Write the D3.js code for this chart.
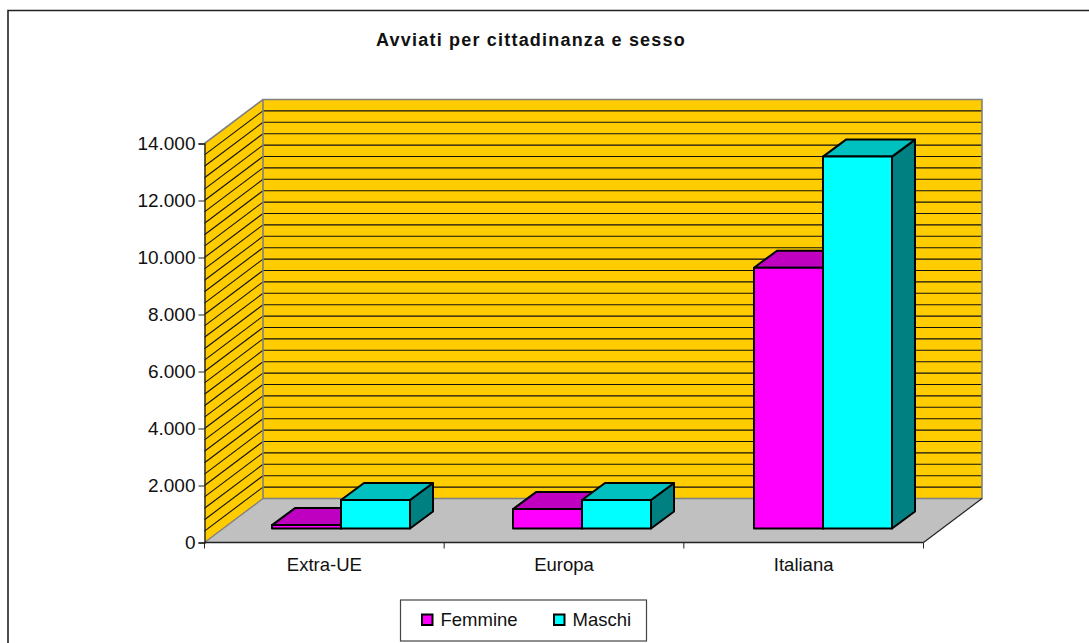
<!DOCTYPE html>
<html>
<head>
<meta charset="utf-8">
<script src="https://cdn.jsdelivr.net/npm/d3@7"></script>
<style>
  html, body { margin: 0; padding: 0; background: #fff; overflow: hidden; }
  svg { display: block; }
  text { font-family: "Liberation Sans", Arial, sans-serif; fill: #111; }
</style>
</head>
<body>
<svg id="chart" width="1089" height="643"></svg>
<script>
const categories = ['Extra-UE', 'Europa', 'Italiana'];
const seriesNames = ['Femmine', 'Maschi'];
const femmine = [120, 680, 9150];
const maschi = [1000, 1000, 13050];
const yTicks = [0, 2000, 4000, 6000, 8000, 10000, 12000, 14000];
const yTickLabels = ['0', '2.000', '4.000', '6.000', '8.000', '10.000', '12.000', '14.000'];
const gridValues = d3.range(0, 14000, 400);

const COLOR = {
  Femmine: { front: '#ff00ff', top: '#c000c0', side: '#800080' },
  Maschi:  { front: '#00ffff', top: '#00c0c0', side: '#008080' }
};

const svg = d3.select('#chart');

// Frame (bottom is cut off by the picture, like the source)
svg.append('path')
  .attr('d', 'M8,643V10.5H1089')
  .attr('fill', 'none').attr('stroke', '#222').attr('stroke-width', 1.6);

svg.append('text')
  .attr('x', 531).attr('y', 46)
  .attr('text-anchor', 'middle')
  .attr('font-size', 18).attr('font-weight', 'bold')
  .attr('letter-spacing', 1.2)
  .text('Avviati per cittadinanza e sesso');

// Front axes and the 3D depth offset of the box
const x = d3.scaleBand().domain(categories).range([204.5, 923.5]);
const y = d3.scaleLinear().domain([0, 14000]).range([542.5, 143.5]);
const depth = { x: 58.5, y: -44 };
const barRise = -14;                     // bar base relative to the front axis
const barDepth = { x: 23, y: -17 };
const barWidth = 69;
// bars sit on the floor, a little further apart than the axis bands
const xBars = d3.scalePoint().domain(categories).range([272, 754]);
const xSlot = d3.scalePoint().domain(seriesNames).range([0, barWidth]);

const poly = pts => 'M' + pts.map(p => p.join(',')).join('L') + 'Z';

const x0 = x.range()[0], x1 = x.range()[1];
const yBase = y(0), yTop = y(14000);

// Floor
svg.append('path')
  .attr('d', poly([[x0, yBase], [x1, yBase], [x1 + depth.x, yBase + depth.y], [x0 + depth.x, yBase + depth.y]]))
  .attr('fill', '#c0c0c0');

// Side wall
svg.append('path')
  .attr('d', poly([[x0, yBase], [x0, yTop], [x0 + depth.x, yTop + depth.y], [x0 + depth.x, yBase + depth.y]]))
  .attr('fill', '#ffcc00');

// Back wall
svg.append('rect')
  .attr('x', x0 + depth.x).attr('y', yTop + depth.y)
  .attr('width', x1 - x0).attr('height', yBase - yTop)
  .attr('fill', '#ffcc00');

// Gridlines on both walls
const grid = svg.append('g').attr('stroke', '#111').attr('stroke-width', 1.1);
grid.selectAll('line.back')
  .data(gridValues.slice(1))
  .join('line').attr('class', 'back')
  .attr('x1', x0 + depth.x).attr('x2', x1 + depth.x)
  .attr('y1', d => y(d) + depth.y).attr('y2', d => y(d) + depth.y);
grid.selectAll('line.side')
  .data(gridValues.slice(1))
  .join('line').attr('class', 'side')
  .attr('x1', x0).attr('x2', x0 + depth.x)
  .attr('y1', d => y(d)).attr('y2', d => y(d) + depth.y);

// Grey wall edges
svg.append('path')
  .attr('d', `M${x0 + depth.x},${yBase + depth.y}L${x1 + depth.x},${yBase + depth.y}L${x1 + depth.x},${yTop + depth.y}L${x0 + depth.x},${yTop + depth.y}L${x0},${yTop}`)
  .attr('fill', 'none').attr('stroke', '#808080').attr('stroke-width', 1.6);
svg.append('line')
  .attr('x1', x0 + depth.x).attr('x2', x0 + depth.x)
  .attr('y1', yTop + depth.y).attr('y2', yBase + depth.y)
  .attr('stroke', '#808080').attr('stroke-width', 1.6);

// Bars
const bars = [];
categories.forEach((c, i) => {
  bars.push({ cat: c, name: seriesNames[0], value: femmine[i] });
  bars.push({ cat: c, name: seriesNames[1], value: maschi[i] });
});

const barG = svg.append('g')
  .attr('stroke', '#000').attr('stroke-width', 2).attr('stroke-linejoin', 'round');

bars.forEach(b => {
  const left = xBars(b.cat) + xSlot(b.name);
  const right = left + barWidth;
  const bottom = y(0) + barRise;
  const top = y(b.value) + barRise;
  const c = COLOR[b.name];
  barG.append('path').attr('fill', c.side)
    .attr('d', poly([[right, bottom], [right, top], [right + barDepth.x, top + barDepth.y], [right + barDepth.x, bottom + barDepth.y]]));
  barG.append('path').attr('fill', c.top)
    .attr('d', poly([[left, top], [right, top], [right + barDepth.x, top + barDepth.y], [left + barDepth.x, top + barDepth.y]]));
  barG.append('rect').attr('fill', c.front)
    .attr('x', left).attr('y', top).attr('width', barWidth).attr('height', bottom - top);
});

// Floor edges
svg.append('line')
  .attr('x1', x0).attr('y1', yBase)
  .attr('x2', x0 + depth.x).attr('y2', yBase + depth.y)
  .attr('stroke', '#808080').attr('stroke-width', 1.4);
svg.append('line')
  .attr('x1', x1).attr('y1', yBase)
  .attr('x2', x1 + depth.x).attr('y2', yBase + depth.y)
  .attr('stroke', '#222').attr('stroke-width', 1.2);

// Y axis
const yAxis = svg.append('g').attr('transform', `translate(${x0},0)`)
  .call(d3.axisLeft(y).tickValues(yTicks).tickSize(6).tickPadding(3)
    .tickFormat((d, i) => yTickLabels[i]));
yAxis.selectAll('text').attr('font-size', 19).style('font-family', '"Liberation Sans", Arial, sans-serif').attr('fill', '#111');
yAxis.selectAll('line').attr('stroke', '#222');
yAxis.select('.domain').attr('stroke', '#222').attr('stroke-width', 1.4);

// X axis
const xAxis = svg.append('g').attr('transform', `translate(0,${yBase})`);
xAxis.append('line').attr('x1', x0).attr('x2', x1).attr('stroke', '#222').attr('stroke-width', 1.4);
xAxis.selectAll('line.tick')
  .data(categories.concat(['end']))
  .join('line').attr('class', 'tick')
  .attr('x1', d => d === 'end' ? x1 : x(d))
  .attr('x2', d => d === 'end' ? x1 : x(d))
  .attr('y1', 0).attr('y2', 6)
  .attr('stroke', '#222');
xAxis.selectAll('text')
  .data(categories)
  .join('text')
  .attr('x', d => x(d) + x.bandwidth() / 2)
  .attr('y', 28)
  .attr('text-anchor', 'middle')
  .attr('font-size', 18.5)
  .text(d => d);

// Legend
const legend = svg.append('g');
legend.append('rect')
  .attr('x', 400.5).attr('y', 600).attr('width', 246).attr('height', 41)
  .attr('fill', '#fff').attr('stroke', '#444').attr('stroke-width', 1.2);
const legendX = d3.scaleOrdinal().domain(seriesNames).range([422, 554]);
seriesNames.forEach(name => {
  legend.append('rect')
    .attr('x', legendX(name)).attr('y', 614.5).attr('width', 10.5).attr('height', 10.5)
    .attr('fill', COLOR[name].front).attr('stroke', '#000').attr('stroke-width', 2);
  legend.append('text')
    .attr('x', legendX(name) + 18.5).attr('y', 625.5)
    .attr('font-size', 18.5)
    .text(name);
});
</script>
</body>
</html>
